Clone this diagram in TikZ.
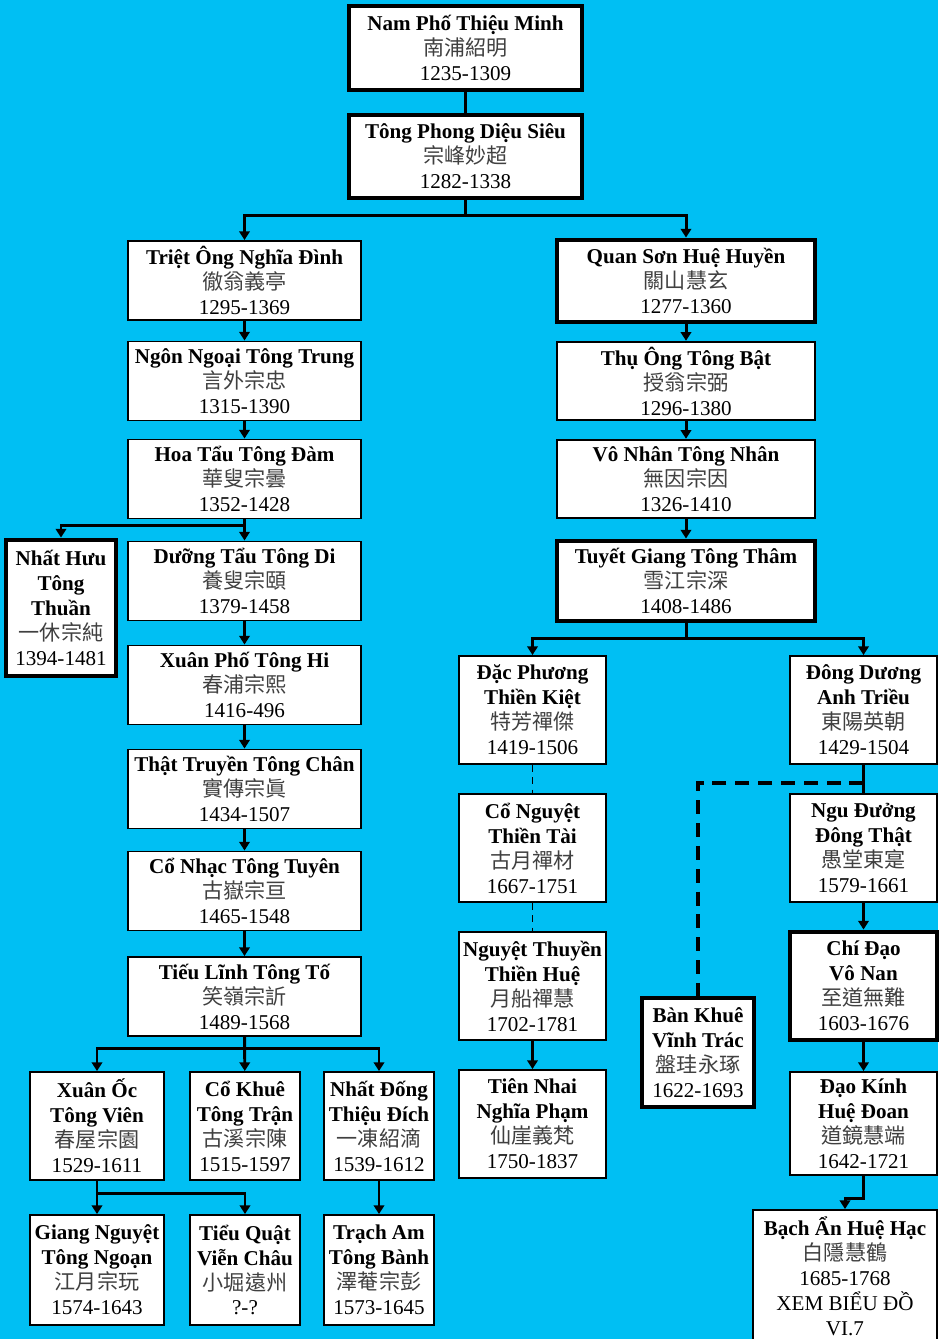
\documentclass[tikz,border=0pt]{standalone}
\usepackage{fontspec}
\setmainfont{Liberation Serif}
\newfontfamily\cjk{Noto Sans CJK TC}
\usepackage{tikz}
\usetikzlibrary{arrows.meta}
\definecolor{sky}{RGB}{0,191,243}
\definecolor{hanzi}{RGB}{64,64,64}
\newcommand{\han}[1]{{\cjk\color{hanzi}#1}}

\begin{document}
\begin{tikzpicture}[x=0.02cm, y=-0.02cm, >={Triangle[width=6pt,length=5pt]},
    monk/.style={draw, fill=white, line width=1.1pt, align=center, inner sep=1pt,
        font=\fontsize{12}{14.2}\selectfont},
    master/.style={monk, line width=2.8pt},
    wide/.style={minimum width=4.66cm, minimum height=1.58cm},
    rwide/.style={minimum width=5.16cm, minimum height=1.57cm},
    narrow/.style={minimum width=2.94cm, minimum height=2.16cm},
    small/.style={minimum width=2.2cm, minimum height=2.16cm},
    link/.style={line width=1.7pt},
    descent/.style={link, ->},
    lineage/.style={line width=1.1pt, dash pattern=on 4pt off 3pt},
    heir/.style={line width=2.4pt, dash pattern=on 8pt off 5pt}]
    \useasboundingbox (0,0) rectangle (938,1339);
    \fill[sky] (0,0) rectangle (938,1339);

    \node[master, minimum width=4.66cm, minimum height=1.68cm] (n1) at (465.5,48)
        {\textbf{Nam Phố Thiệu Minh}\\\han{南浦紹明}\\1235-1309};
    \node[master, minimum width=4.66cm, minimum height=1.66cm] (n2) at (465.5,156.5)
        {\textbf{Tông Phong Diệu Siêu}\\\han{宗峰妙超}\\1282-1338};

    \node[monk, wide] (l1) at (244.5,280.5) {\textbf{Triệt Ông Nghĩa Đình}\\\han{徹翁義亭}\\1295-1369};
    \node[monk, wide] (l2) at (244.5,381) {\textbf{Ngôn Ngoại Tông Trung}\\\han{言外宗忠}\\1315-1390};
    \node[monk, wide] (l3) at (244.5,479) {\textbf{Hoa Tẩu Tông Đàm}\\\han{華叟宗曇}\\1352-1428};
    \node[monk, wide] (l4) at (244.5,581) {\textbf{Dưỡng Tẩu Tông Di}\\\han{養叟宗頤}\\1379-1458};
    \node[monk, wide] (l5) at (244.5,685) {\textbf{Xuân Phố Tông Hi}\\\han{春浦宗熙}\\1416-496};
    \node[monk, wide] (l6) at (244.5,789) {\textbf{Thật Truyền Tông Chân}\\\han{實傳宗眞}\\1434-1507};
    \node[monk, wide] (l7) at (244.5,891) {\textbf{Cổ Nhạc Tông Tuyên}\\\han{古嶽宗亘}\\1465-1548};
    \node[monk, wide] (l8) at (244.5,996.5) {\textbf{Tiếu Lĩnh Tông Tố}\\\han{笑嶺宗訢}\\1489-1568};

    \node[master, minimum width=2.2cm, minimum height=2.72cm] (nh) at (61,608)
        {\textbf{Nhất Hưu}\\\textbf{Tông}\\\textbf{Thuần}\\\han{一休宗純}\\1394-1481};

    \node[monk, small, minimum width=2.68cm] (b1) at (97,1126) {\textbf{Xuân Ốc}\\\textbf{Tông Viên}\\\han{春屋宗園}\\1529-1611};
    \node[monk, small] (b2) at (245,1126) {\textbf{Cổ Khuê}\\\textbf{Tông Trận}\\\han{古溪宗陳}\\1515-1597};
    \node[monk, small] (b3) at (379,1126) {\textbf{Nhất Đống}\\\textbf{Thiệu Đích}\\\han{一凍紹滴}\\1539-1612};
    \node[monk, small, minimum width=2.68cm, minimum height=2.2cm] (c1) at (97,1270) {\textbf{Giang Nguyệt}\\\textbf{Tông Ngoạn}\\\han{江月宗玩}\\1574-1643};
    \node[monk, small, minimum height=2.2cm] (c2) at (245,1270) {\textbf{Tiểu Quật}\\\textbf{Viễn Châu}\\\han{小堀遠州}\\?-?};
    \node[monk, small, minimum height=2.2cm] (c3) at (379,1270) {\textbf{Trạch Am}\\\textbf{Tông Bành}\\\han{澤菴宗彭}\\1573-1645};

    \node[master, rwide, minimum height=1.64cm] (r1) at (686,281) {\textbf{Quan Sơn Huệ Huyền}\\\han{關山慧玄}\\1277-1360};
    \node[monk, rwide] (r2) at (686,381) {\textbf{Thụ Ông Tông Bật}\\\han{授翁宗弼}\\1296-1380};
    \node[monk, rwide] (r3) at (686,479) {\textbf{Vô Nhân Tông Nhân}\\\han{無因宗因}\\1326-1410};
    \node[master, rwide, minimum height=1.6cm] (r4) at (686,581) {\textbf{Tuyết Giang Tông Thâm}\\\han{雪江宗深}\\1408-1486};

    \node[monk, narrow] (s1) at (532.5,710) {\textbf{Đặc Phương}\\\textbf{Thiền Kiệt}\\\han{特芳禪傑}\\1419-1506};
    \node[monk, narrow] (s2) at (532.5,848) {\textbf{Cổ Nguyệt}\\\textbf{Thiền Tài}\\\han{古月禪材}\\1667-1751};
    \node[monk, narrow] (s3) at (532.5,986) {\textbf{Nguyệt Thuyền}\\\textbf{Thiền Huệ}\\\han{月船禪慧}\\1702-1781};
    \node[monk, narrow] (s4) at (532.5,1124) {\textbf{Tiên Nhai}\\\textbf{Nghĩa Phạm}\\\han{仙崖義梵}\\1750-1837};

    \node[monk, narrow] (e1) at (863.5,710) {\textbf{Đông Dương}\\\textbf{Anh Triều}\\\han{東陽英朝}\\1429-1504};
    \node[monk, narrow] (e2) at (863.5,848) {\textbf{Ngu Đưởng}\\\textbf{Đông Thật}\\\han{愚堂東寔}\\1579-1661};
    \node[master, narrow] (e3) at (863.5,986) {\textbf{Chí Đạo}\\\textbf{Vô Nan}\\\han{至道無難}\\1603-1676};
    \node[monk, narrow, minimum height=2.06cm] (e4) at (863.5,1123.5) {\textbf{Đạo Kính}\\\textbf{Huệ Đoan}\\\han{道鏡慧端}\\1642-1721};
    \node[master, minimum width=2.24cm, minimum height=2.18cm] (bk) at (698,1052.5)
        {\textbf{Bàn Khuê}\\\textbf{Vĩnh Trác}\\\han{盤珪永琢}\\1622-1693};
    \node[monk, minimum width=3.68cm, minimum height=2.66cm] (bach) at (845,1276.5)
        {\textbf{Bạch Ẩn Huệ Hạc}\\\han{白隱慧鶴}\\1685-1768\\XEM BIỂU ĐỒ\\VI.7};

    \draw[link] (n1) -- (n2);
    \draw[descent] (n2.south) -- ++(0,15) -| (l1.north);
    \draw[descent] (n2.south) -- ++(0,15) -| (r1.north);

    \draw[descent] (l1) -- (l2);
    \draw[descent] (l2) -- (l3);
    \draw[descent] (l3) -- (l4);
    \draw[descent] (l3.south) -- ++(0,6) -| (nh.north);
    \draw[descent] (l4) -- (l5);
    \draw[descent] (l5) -- (l6);
    \draw[descent] (l6) -- (l7);
    \draw[descent] (l7) -- (l8);
    \draw[descent] (l8.south) -- ++(0,12) -| (b1.north);
    \draw[descent] (l8) -- (b2);
    \draw[descent] (l8.south) -- ++(0,12) -| (b3.north);
    \draw[descent] (b1) -- (c1);
    \draw[descent] (b1.south) -- ++(0,13) -| (c2.north);
    \draw[descent] (b3) -- (c3);

    \draw[descent] (r1) -- (r2);
    \draw[descent] (r2) -- (r3);
    \draw[descent] (r3) -- (r4);
    \draw[descent] (r4.south) -- ++(0,15) -| (s1.north);
    \draw[descent] (r4.south) -- ++(0,15) -| (e1.north);

    \draw[lineage] (s1) -- (s2);
    \draw[lineage] (s2) -- (s3);
    \draw[descent] (s3) -- (s4);

    \coordinate (split) at (863.5,783);
    \draw[link] (e1) -- (e2);
    \draw[heir] (split) -| (bk.north);
    \draw[descent] (e2) -- (e3);
    \draw[descent] (e3) -- (e4);
    \draw[descent] (e4.south) -- ++(0,23) -| (bach.north);
\end{tikzpicture}
\end{document}
